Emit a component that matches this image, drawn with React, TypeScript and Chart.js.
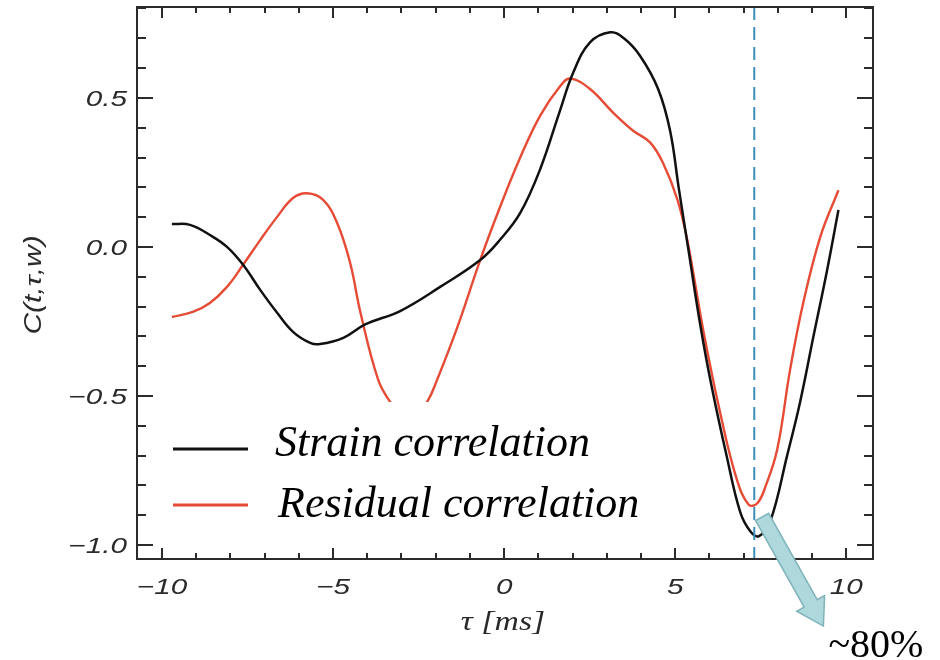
import React, { useEffect, useRef } from "react";
import { Chart, registerables } from "chart.js";

Chart.register(...registerables);

// ---- data ----
const strainTau = [-9.71, -9.18, -8.6, -8.1, -7.63, -7.13, -6.64, -6.17, -5.67, -5.38, -4.7, -4.06, -3.04, -1.87, -0.7, -0.12, 0.47, 1.05, 1.64, 2.02, 2.51, 3.1, 3.5, 3.98, 4.5, 4.85, 5.1, 5.4, 5.73, 6.05, 6.5, 6.9, 7.2, 7.45, 7.78, 8.27, 8.65, 9.04, 9.44, 9.77];
const strainC = [0.077, 0.074, 0.04, 0.0, -0.06, -0.144, -0.22, -0.285, -0.322, -0.326, -0.305, -0.26, -0.215, -0.134, -0.044, 0.024, 0.114, 0.26, 0.46, 0.585, 0.686, 0.72, 0.7, 0.64, 0.53, 0.39, 0.2, -0.02, -0.26, -0.46, -0.7, -0.89, -0.955, -0.97, -0.92, -0.7, -0.52, -0.3, -0.077, 0.124];

const residualTau = [-9.71, -9.1, -8.6, -8.1, -7.63, -7.13, -6.64, -6.17, -5.76, -5.29, -4.88, -4.5, -4.2, -3.68, -3.33, -2.78, -2.25, -1.96, -1.37, -0.7, -0.12, 0.47, 1.05, 1.64, 1.93, 2.51, 3.19, 3.77, 4.27, 4.65, 5.06, 5.35, 5.82, 6.32, 6.8, 7.15, 7.4, 7.65, 7.98, 8.36, 8.74, 9.24, 9.77];
const residualC = [-0.235, -0.218, -0.188, -0.134, -0.06, 0.023, 0.1, 0.164, 0.18, 0.158, 0.08, -0.054, -0.22, -0.446, -0.52, -0.6, -0.52, -0.446, -0.27, -0.044, 0.134, 0.3, 0.44, 0.54, 0.565, 0.53, 0.45, 0.39, 0.35, 0.28, 0.16, 0.024, -0.28, -0.56, -0.78, -0.865, -0.86, -0.8, -0.68, -0.41, -0.188, 0.034, 0.19];

const xTicks = [-10, -5, 0, 5, 10];
const xTickLabels = ["\u221210", "\u22125", "0", "5", "10"];
const yTicks = [-1.0, -0.5, 0.0, 0.5];
const yTickLabels = ["\u22121.0", "\u22120.5", "0.0", "0.5"];
const xMinorStep = 1;
const yMinorStep = 0.1;

const seriesNames = ["Strain correlation", "Residual correlation"];
const markerTau = 7.31;
const arrowFrom = [7.54, -0.906];
const arrowTo = [9.33, -1.272];
const annotationText = "~80%";
const xTitle = "\u03c4 [ms]";
const yTitle = "C(t,\u03c4,w)";

const BLACK = "#111111";
const RED = "#e64b35";

function stretchedText(
  ctx: CanvasRenderingContext2D,
  text: string,
  px: number,
  py: number,
  font: string,
  sx: number,
  align: CanvasTextAlign,
  baseline: CanvasTextBaseline,
  angle = 0,
  color = "#2a2a2a"
) {
  ctx.save();
  ctx.translate(px, py);
  ctx.rotate(angle);
  ctx.scale(sx, 1);
  ctx.font = font;
  ctx.fillStyle = color;
  ctx.textAlign = align;
  ctx.textBaseline = baseline;
  ctx.fillText(text, 0, 0);
  ctx.restore();
}

const decor = {
  id: "decor",
  afterDatasetsDraw(chart: any) {
    const { ctx, chartArea: a, scales } = chart;
    const xs = scales.x;
    const ys = scales.y;

    // dashed marker line
    ctx.save();
    ctx.strokeStyle = "#3d8fb8";
    ctx.lineWidth = 2;
    ctx.setLineDash([13, 7]);
    const mx = xs.getPixelForValue(markerTau);
    ctx.beginPath();
    ctx.moveTo(mx, a.top);
    ctx.lineTo(mx, a.bottom);
    ctx.stroke();
    ctx.restore();

    // legend with white background
    ctx.save();
    ctx.fillStyle = "#ffffff";
    ctx.fillRect(158, 402, 505, 133);
    ctx.lineWidth = 3;
    ctx.strokeStyle = BLACK;
    ctx.beginPath();
    ctx.moveTo(173, 449);
    ctx.lineTo(248, 449);
    ctx.stroke();
    ctx.strokeStyle = RED;
    ctx.beginPath();
    ctx.moveTo(173, 505);
    ctx.lineTo(248, 505);
    ctx.stroke();
    ctx.fillStyle = "#000";
    ctx.font = 'italic 44px "Liberation Serif", "Times New Roman", serif';
    ctx.textAlign = "left";
    ctx.textBaseline = "alphabetic";
    ctx.fillText(seriesNames[0], 275, 456);
    ctx.fillText(seriesNames[1], 278, 517);
    ctx.restore();

    // frame
    ctx.save();
    ctx.strokeStyle = "#2b2b2b";
    ctx.lineWidth = 2;
    ctx.strokeRect(a.left, a.top, a.right - a.left, a.bottom - a.top);

    // x ticks (bottom and top, inward)
    for (let v = Math.ceil(xs.min / xMinorStep) * xMinorStep; v <= xs.max; v += xMinorStep) {
      const major = xTicks.some((t) => Math.abs(t - v) < 1e-6);
      const len = major ? 11 : 6;
      const px = Math.round(xs.getPixelForValue(v));
      ctx.beginPath();
      ctx.moveTo(px, a.bottom);
      ctx.lineTo(px, a.bottom - len);
      ctx.moveTo(px, a.top);
      ctx.lineTo(px, a.top + len);
      ctx.stroke();
    }
    // y ticks (left and right, inward)
    const kMin = Math.ceil(ys.min / yMinorStep - 1e-9);
    const kMax = Math.floor(ys.max / yMinorStep + 1e-9);
    for (let k = kMin; k <= kMax; k++) {
      const v = k * yMinorStep;
      const major = yTicks.some((t) => Math.abs(t - v) < 1e-6);
      const len = major ? 16 : 9;
      const py = Math.round(ys.getPixelForValue(v));
      ctx.beginPath();
      ctx.moveTo(a.left, py);
      ctx.lineTo(a.left + len, py);
      ctx.moveTo(a.right, py);
      ctx.lineTo(a.right - len, py);
      ctx.stroke();
    }
    ctx.restore();

    // tick labels
    const tickFont = 'italic 22px "Liberation Sans", Arial, sans-serif';
    xTicks.forEach((v, i) => {
      stretchedText(ctx, xTickLabels[i], xs.getPixelForValue(v), a.bottom + 29, tickFont, 1.35, "center", "middle");
    });
    yTicks.forEach((v, i) => {
      stretchedText(ctx, yTickLabels[i], a.left - 10, ys.getPixelForValue(v) + 2, tickFont, 1.35, "right", "middle");
    });

    // axis titles
    stretchedText(ctx, xTitle, (a.left + a.right) / 2 - 2, 623, 'italic 27px "Liberation Serif", serif', 1.25, "center", "middle");
    stretchedText(ctx, yTitle, 35, 285, 'italic 23px "Liberation Sans", Arial, sans-serif', 1.3, "center", "middle", -Math.PI / 2);

    // arrow annotation
    const p0x = xs.getPixelForValue(arrowFrom[0]);
    const p0y = ys.getPixelForValue(arrowFrom[1]);
    const p1x = xs.getPixelForValue(arrowTo[0]);
    const p1y = ys.getPixelForValue(arrowTo[1]);
    const dx = p1x - p0x;
    const dy = p1y - p0y;
    const L = Math.hypot(dx, dy);
    const ux = dx / L;
    const uy = dy / L;
    const nx = -uy;
    const ny = ux;
    const sw = 7.5;
    const hw = 16;
    const hl = 26;
    const bx = p1x - ux * hl;
    const by = p1y - uy * hl;
    ctx.save();
    ctx.beginPath();
    ctx.moveTo(p0x + nx * sw, p0y + ny * sw);
    ctx.lineTo(bx + nx * sw, by + ny * sw);
    ctx.lineTo(bx + nx * hw, by + ny * hw);
    ctx.lineTo(p1x, p1y);
    ctx.lineTo(bx - nx * hw, by - ny * hw);
    ctx.lineTo(bx - nx * sw, by - ny * sw);
    ctx.lineTo(p0x - nx * sw, p0y - ny * sw);
    ctx.closePath();
    ctx.fillStyle = "#aed8dc";
    ctx.fill();
    ctx.strokeStyle = "#7fb3ba";
    ctx.lineWidth = 1.5;
    ctx.stroke();

    ctx.fillStyle = "#000";
    ctx.font = '40px "Liberation Serif", "Times New Roman", serif';
    ctx.textAlign = "left";
    ctx.textBaseline = "alphabetic";
    ctx.fillText(annotationText, p1x + 5, p1y + 31);
    ctx.restore();
  },
};

export default function App() {
  const ref = useRef<HTMLCanvasElement | null>(null);

  useEffect(() => {
    if (!ref.current) return;
    const chart = new Chart(ref.current, {
      type: "line",
      data: {
        datasets: [
          {
            label: seriesNames[0],
            data: strainTau.map((t, i) => ({ x: t, y: strainC[i] })),
            borderColor: BLACK,
            borderWidth: 2.5,
            pointRadius: 0,
            tension: 0.4,
            fill: false,
          },
          {
            label: seriesNames[1],
            data: residualTau.map((t, i) => ({ x: t, y: residualC[i] })),
            borderColor: RED,
            borderWidth: 2.4,
            pointRadius: 0,
            tension: 0.4,
            fill: false,
          },
        ],
      },
      options: {
        responsive: false,
        animation: false,
        layout: { padding: { left: 137, right: 67, top: 7, bottom: 101 } },
        scales: {
          x: { type: "linear", min: -10.73, max: 10.78, display: false },
          y: { type: "linear", min: -1.047, max: 0.805, display: false },
        },
        plugins: {
          legend: { display: false },
          tooltip: { enabled: false },
        },
      },
      plugins: [decor],
    });
    return () => chart.destroy();
  }, []);

  return (
    <div style={{ position: "fixed", left: 0, top: 0, width: 940, height: 660, background: "#fff" }}>
      <canvas ref={ref} width={940} height={660} />
    </div>
  );
}
